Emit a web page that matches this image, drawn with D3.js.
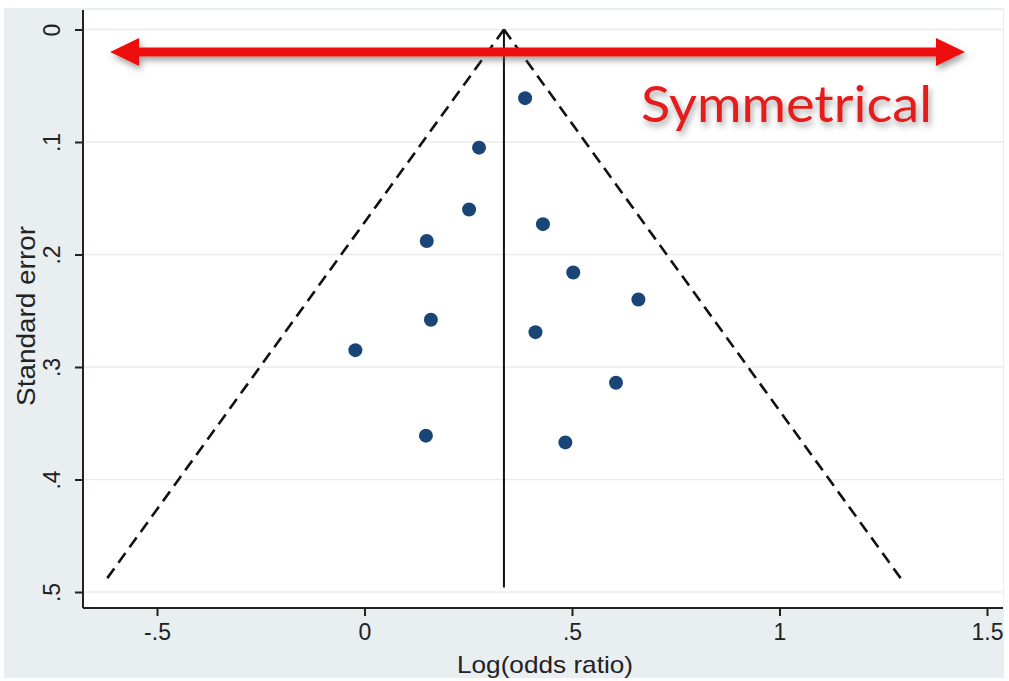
<!DOCTYPE html>
<html>
<head>
<meta charset="utf-8">
<script src="https://cdn.jsdelivr.net/npm/d3@7"></script>
<style>
body{margin:0;background:#fff;}
svg{display:block;}
</style>
</head>
<body>
<div id="plot"></div>
<script>
// study estimates
var logOR = [0.387, 0.276, 0.252, 0.430, 0.150, 0.503, 0.660, 0.160, 0.412, -0.022, 0.606, 0.148, 0.484];
var stdErr = [0.061, 0.105, 0.160, 0.173, 0.188, 0.216, 0.240, 0.258, 0.269, 0.285, 0.314, 0.361, 0.367];
var pooled = 0.336;
var seMax = 0.492;
var xTicks = [-0.5, 0, 0.5, 1, 1.5];
var xTickLabels = ['-.5', '0', '.5', '1', '1.5'];
var yTicks = [0, 0.1, 0.2, 0.3, 0.4, 0.5];
var yTickLabels = ['0', '.1', '.2', '.3', '.4', '.5'];

var W = 1009, H = 681;
var margin = {t:10, r:6, b:73, l:83};
var width = W - margin.l - margin.r,
	height = H - margin.t - margin.b;

var svg = d3.select('#plot')
	.append('svg')
	.attr('width', W)
	.attr('height', H);

var defs = svg.append('defs');
var f = defs.append('filter').attr('id','shadow').attr('x','-10%').attr('y','-50%').attr('width','120%').attr('height','200%');
f.append('feDropShadow').attr('dx',2).attr('dy',4).attr('stdDeviation',3).attr('flood-color','#555').attr('flood-opacity',0.55);

// outer background
svg.append('rect').attr('x',4).attr('y',8).attr('width',1000).attr('height',670).style('fill','#e9eef1');

var plot = svg.append('g')
	.attr('transform','translate('+margin.l+','+margin.t+')');

plot.append('rect').attr('width',width).attr('height',height).style('fill','#fff');

var x = d3.scaleLinear().domain([-0.5, 1.5]).range([157-margin.l, 987-margin.l]);
var y = d3.scaleLinear().domain([0, 0.5]).range([29.5-margin.t, 592-margin.t]);

// gridlines
plot.selectAll('.grid').data(yTicks).enter().append('line')
	.attr('x1',0).attr('x2',width)
	.attr('y1',function(d){return y(d);}).attr('y2',function(d){return y(d);})
	.style('stroke','#ebebeb').style('stroke-width',1.5);

// pseudo confidence limits
var left = [[pooled,0],[pooled-1.96*seMax,seMax]];
var right = [[pooled,0],[pooled+1.96*seMax,seMax]];
var line = d3.line().x(function(d){return x(d[0]);}).y(function(d){return y(d[1]);});
[left,right].forEach(function(l){
	plot.append('path').attr('d',line(l))
		.style('fill','none').style('stroke','#111').style('stroke-width',2.6)
		.style('stroke-dasharray','12,7');
});
plot.append('path').attr('d',line([[pooled,0],[pooled,0.496]]))
	.style('stroke','#111').style('stroke-width',2);

// points
plot.selectAll('circle').data(logOR).enter().append('circle')
	.attr('cx',function(d){return x(d);})
	.attr('cy',function(d,i){return y(stdErr[i]);})
	.attr('r',7)
	.style('fill','#1a4677');

// axes
var xAxis = d3.axisBottom(x).tickValues(xTicks).tickFormat(function(d,i){return xTickLabels[i];}).tickSize(8).tickSizeOuter(0);
var gx = plot.append('g').attr('transform','translate(0,'+height+')').call(xAxis);
gx.select('.domain').attr('d','M0,0H'+width).style('stroke','#222').style('stroke-width',2);
gx.selectAll('.tick line').style('stroke','#222').style('stroke-width',2);
gx.selectAll('.tick text').attr('y',16).style('font-family','Liberation Sans, Arial, sans-serif').style('font-size','23px').style('fill','#222');

var yAxis = d3.axisLeft(y).tickValues(yTicks).tickFormat(function(d,i){return yTickLabels[i];}).tickSize(8).tickSizeOuter(0);
var gy = plot.append('g').call(yAxis);
gy.select('.domain').attr('d','M0,0V'+height).style('stroke','#222').style('stroke-width',2);
gy.selectAll('.tick line').style('stroke','#222').style('stroke-width',2);
gy.selectAll('.tick text')
	.attr('x',0).attr('dy',0)
	.attr('transform','translate(-23,0) rotate(-90)')
	.attr('text-anchor','middle')
	.style('font-family','Liberation Sans, Arial, sans-serif').style('font-size','23px').style('fill','#222');

svg.append('text').attr('x',545).attr('y',673).attr('text-anchor','middle')
	.attr('textLength',176).attr('lengthAdjust','spacingAndGlyphs')
	.style('font-family','Liberation Sans, Arial, sans-serif').style('font-size','24px').style('fill','#222')
	.text('Log(odds ratio)');
svg.append('text').attr('transform','translate(35,316) rotate(-90)').attr('text-anchor','middle')
	.attr('textLength',180).attr('lengthAdjust','spacingAndGlyphs')
	.style('font-family','Liberation Sans, Arial, sans-serif').style('font-size','25px').style('fill','#222')
	.text('Standard error');

// annotation arrow
var ax0 = x(-0.613), ax1 = x(1.447), ay = y(0.02);
var ann = plot.append('g').attr('filter','url(#shadow)');
ann.append('line').attr('x1',ax0+20).attr('x2',ax1-20).attr('y1',ay).attr('y2',ay)
	.style('stroke','#ee0f0f').style('stroke-width',9);
ann.append('path').attr('d','M'+ax0+','+ay+'L'+(ax0+29)+','+(ay-14)+'L'+(ax0+29)+','+(ay+14)+'Z').style('fill','#ee0f0f');
ann.append('path').attr('d','M'+ax1+','+ay+'L'+(ax1-29)+','+(ay-14)+'L'+(ax1-29)+','+(ay+14)+'Z').style('fill','#ee0f0f');

svg.append('text').attr('x',641).attr('y',122).attr('filter','url(#shadow)')
	.attr('textLength',291).attr('lengthAdjust','spacingAndGlyphs')
	.style('font-family','Lato, sans-serif').style('font-size','50px').style('fill','#e41c1c')
	.text('Symmetrical');
</script>
</body>
</html>
